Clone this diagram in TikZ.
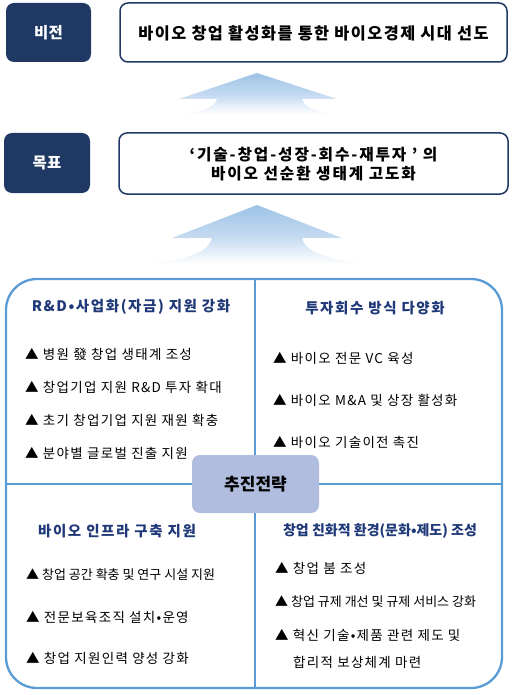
\documentclass[tikz,border=0pt]{standalone}
\usepackage{fontspec}
\setmainfont{Noto Sans CJK KR}
\definecolor{navy}{RGB}{32,56,100}
\definecolor{titlenavy}{RGB}{31,56,120}
\definecolor{frameblue}{RGB}{91,155,213}
\definecolor{centerfill}{RGB}{176,189,222}
\definecolor{ab1}{RGB}{157,195,230}
\definecolor{ab2}{RGB}{196,218,241}
\pgfdeclareverticalshading{arrowshade}{100bp}{color(0bp)=(white); color(27bp)=(white); color(50bp)=(ab2); color(75bp)=(ab1); color(100bp)=(ab1)}
\tikzset{
  labelbox/.style={fill=navy, rounded corners=8pt},
  labeltext/.style={text=white, font=\bfseries\fontsize{15.5}{18}\selectfont},
  mainbox/.style={draw=navy, line width=1.5pt, fill=white, rounded corners=8pt},
  maintext/.style={font=\bfseries\fontsize{16.3}{20}\selectfont\addfontfeature{LetterSpace=9}, align=center},
  goaltext/.style={font=\bfseries\fontsize{15.7}{19.5}\selectfont\addfontfeature{LetterSpace=12}, align=center},
  quadtitle/.style={text=titlenavy, font=\bfseries\fontsize{14.5}{16}\selectfont\addfontfeature{LetterSpace=11}},
  quadtitlenarrow/.style={text=titlenavy, font=\bfseries\fontsize{14}{16}\selectfont},
  item/.style={anchor=west, font=\fontsize{13.5}{16}\selectfont\addfontfeature{LetterSpace=9.5}, inner sep=0pt},
  itemnarrow/.style={anchor=west, font=\fontsize{13}{16}\selectfont, inner sep=0pt},
  frame/.style={draw=frameblue, line width=2.3pt},
  divider/.style={draw=frameblue, line width=2pt},
  upshade/.style={shading=arrowshade, draw=none},
}
\begin{document}
\begin{tikzpicture}[x=1pt,y=-1pt]
\useasboundingbox (0,0) rectangle (515,695);
% vision row
\path[labelbox] (6,3) rectangle (91,62);
\node[labeltext] (vlabel) at (48.5,32.5) {비전};
\draw[mainbox] (120,3) rectangle (507,62);
\node[maintext] (vision) at (313.5,33) {바이오 창업 활성화를 통한 바이오경제 시대 선도};
% arrow 1
\path[upshade] (175,116) .. controls (200,111) and (214,109) .. (217,99) -- (179,99) -- (257,73) -- (337,99) -- (302,99) .. controls (305,109) and (318,111) .. (342,116) -- cycle;
% goal row
\path[labelbox] (4,133) rectangle (90,193);
\node[labeltext] (glabel) at (47,163) {목표};
\draw[mainbox] (119,133) rectangle (508,194);
\node[goaltext] (goal) at (313.5,164) {‘기술-창업-성장-회수-재투자 ’ 의\\바이오 선순환 생태계 고도화};
% arrow 2
\path[upshade] (125,267) .. controls (170,261) and (207,258) .. (212,238) -- (172,238) -- (257,205) -- (342,238) -- (302,238) .. controls (307,258) and (344,261) .. (388,267) -- cycle;
% strategy frame
\draw[divider] (255,279) -- (255,688);
\draw[divider] (6,484) -- (502,484);
\draw[frame, rounded corners=31pt] (6,279) rectangle (502,688);
\path[fill=centerfill, rounded corners=8pt] (192,455) rectangle (319,513);
\node[font=\bfseries\fontsize{17}{19}\selectfont] (center) at (255.5,484) {추진전략};
% TL
\node[quadtitle] (tlt) at (131,307) {R\&D•사업화(자금) 지원 강화};
\node[item] (tl1) at (25,354) {▲ 병원 發 창업 생태계 조성};
\node[item] (tl2) at (25,387) {▲ 창업기업 지원 R\&D 투자 확대};
\node[item] (tl3) at (25,420) {▲ 초기 창업기업 지원 재원 확충};
\node[item] (tl4) at (25,453) {▲ 분야별 글로벌 진출 지원};
% TR
\node[quadtitle] (trt) at (375,308) {투자회수 방식 다양화};
\node[item] (tr1) at (273,358) {▲ 바이오 전문 VC 육성};
\node[item] (tr2) at (273,400) {▲ 바이오 M\&A 및 상장 활성화};
\node[item] (tr3) at (273,442) {▲ 바이오 기술이전 촉진};
% BL
\node[quadtitle] (blt) at (117,531) {바이오 인프라 구축 지원};
\node[itemnarrow] (bl1) at (26,575) {▲ 창업 공간 확충 및 연구 시설 지원};
\node[item] (bl2) at (26,617) {▲ 전문보육조직 설치•운영};
\node[item] (bl3) at (26,658) {▲ 창업 지원인력 양성 강화};
% BR
\node[quadtitlenarrow] (brt) at (380,531) {창업 친화적 환경(문화•제도) 조성};
\node[item] (br1) at (275,568) {▲ 창업 붐 조성};
\node[itemnarrow] (br2) at (275,602) {▲ 창업 규제 개선 및 규제 서비스 강화};
\node[item] (br3) at (275,635) {▲ 혁신 기술•제품 관련 제도 및};
\node[item] (br4) at (293,662) {합리적 보상체계 마련};
\end{tikzpicture}
\end{document}
